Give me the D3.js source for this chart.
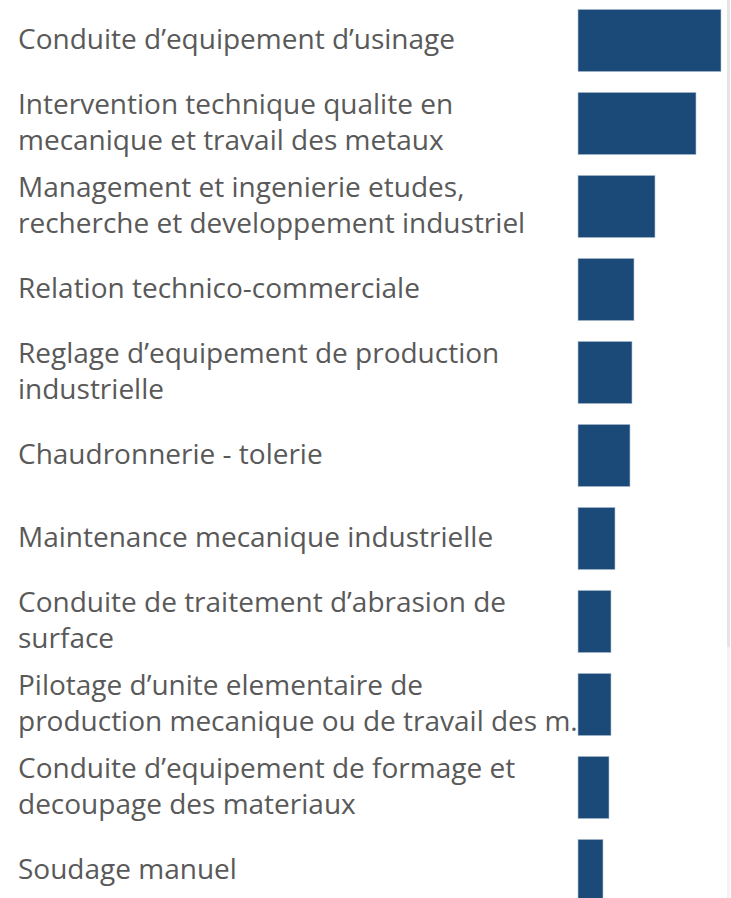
<!DOCTYPE html>
<html>
<head>
<meta charset="utf-8">
<script src="https://cdn.jsdelivr.net/npm/d3@7"></script>
<style>
  body { margin: 0; background: #fff; overflow: hidden; }
  svg { display: block; }
</style>
</head>
<body>
<svg id="chart"></svg>
<script>
var width = 731;
var height = 898;

// labels as shown (line breaks where the chart wraps them)
var categories = [
	"Conduite d’equipement d’usinage",
	"Intervention technique qualite en\nmecanique et travail des metaux",
	"Management et ingenierie etudes,\nrecherche et developpement industriel",
	"Relation technico-commerciale",
	"Reglage d’equipement de production\nindustrielle",
	"Chaudronnerie - tolerie",
	"Maintenance mecanique industrielle",
	"Conduite de traitement d’abrasion de\nsurface",
	"Pilotage d’unite elementaire de\nproduction mecanique ou de travail des m...",
	"Conduite d’equipement de formage et\ndecoupage des materiaux",
	"Soudage manuel"
];
var values = [143, 118, 77, 56, 54, 52, 37, 33, 33, 31, 25];

var barColor = "#1c4a78";
var textColor = "#595959";
var barLeft = 578;
var lineHeight = 36;

var svg = d3.select("#chart")
	.attr("width", width)
	.attr("height", height);

var y = d3.scaleBand()
	.domain(categories)
	.range([-1, 912])
	.paddingInner(0.25)
	.paddingOuter(0.125);

var x = d3.scaleLinear()
	.domain([0, d3.max(values)])
	.range([0, 143]);

// labels
var labels = svg.append("g")
	.attr("class", "labels")
	.selectAll("text")
	.data(categories)
	.enter()
	.append("text")
	.attr("x", 18)
	.attr("y", function(d) { return y(d) + y.bandwidth() / 2; })
	.attr("fill", textColor)
	.style("font-family", "'Open Sans', sans-serif")
	.style("font-size", "28px");

labels.each(function(d) {
	var lines = d.split("\n");
	var t = d3.select(this);
	var offset = -(lines.length - 1) * lineHeight / 2;
	lines.forEach(function(line, i) {
		t.append("tspan")
			.attr("x", 18)
			.attr("dy", i == 0 ? (offset + 8.5) : lineHeight)
			.text(line);
	});
});

// bars
svg.append("g")
	.attr("class", "bars")
	.selectAll("rect")
	.data(values)
	.enter()
	.append("rect")
	.attr("x", barLeft)
	.attr("y", function(d, i) { return y(categories[i]); })
	.attr("width", function(d) { return x(d); })
	.attr("height", y.bandwidth())
	.attr("fill", barColor)
	.attr("stroke", "#b9c8d8")
	.attr("stroke-width", 0.6);

// scrollbar strip on the right edge
svg.append("rect")
	.attr("x", 727).attr("y", 0)
	.attr("width", 3).attr("height", height)
	.attr("fill", "#f3f3f3");
svg.append("rect")
	.attr("x", 727).attr("y", 0)
	.attr("width", 3).attr("height", 647)
	.attr("fill", "#e4e4e4");
</script>
</body>
</html>
